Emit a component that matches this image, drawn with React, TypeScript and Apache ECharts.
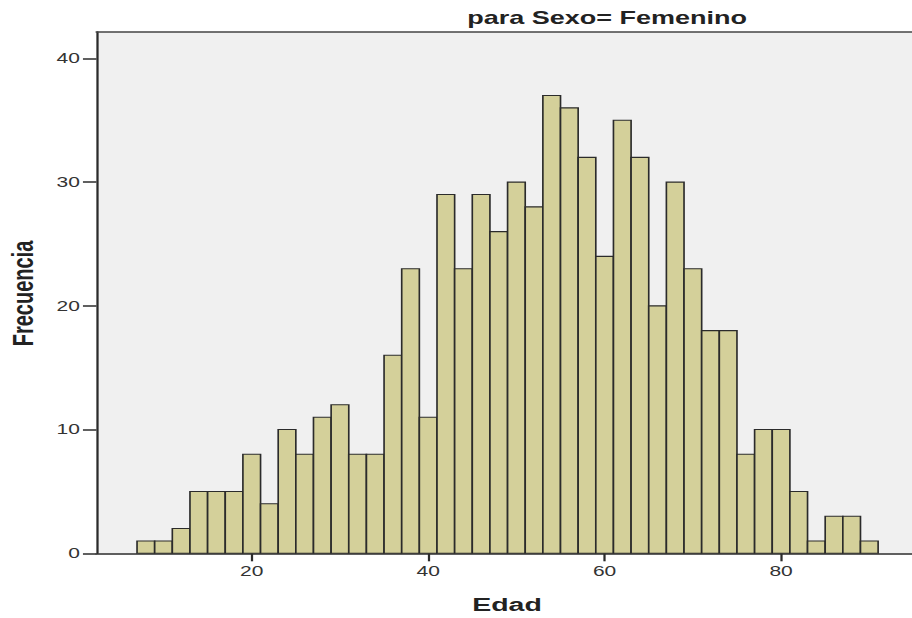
import React, { useEffect, useRef } from "react";
import * as echarts from "echarts";

// Histogram data: bin centres (Edad) and frequencies (Frecuencia)
const binCenters = [8, 10, 12, 14, 16, 18, 20, 22, 24, 26, 28, 30, 32, 34, 36, 38, 40, 42, 44, 46, 48, 50, 52, 54, 56, 58, 60, 62, 64, 66, 68, 70, 72, 74, 76, 78, 80, 82, 84, 86, 88, 90];
const frequencies = [1, 1, 2, 5, 5, 5, 8, 4, 10, 8, 11, 12, 8, 8, 16, 23, 11, 29, 23, 29, 26, 30, 28, 37, 36, 32, 24, 35, 32, 20, 30, 23, 18, 18, 8, 10, 10, 5, 1, 3, 3, 1];
const BIN_WIDTH = 2;
const xTickLabels = [20, 40, 60, 80];
const yTickLabels = [0, 10, 20, 30, 40];
const titleText = "para Sexo= Femenino";
const xName = "Edad";
const yName = "Frecuencia";

const SCALE_X = 1.5;
const W = 912 / SCALE_X;
const H = 618;
const FONT = '"Liberation Sans", Arial, sans-serif';
const X_MIN = 2.4;
const X_MAX = 94.84;

export default function App() {
  const ref = useRef<HTMLDivElement>(null);
  useEffect(() => {
    if (!ref.current) return;
    const chart = echarts.init(ref.current, null, { renderer: "svg", width: W, height: H });
    const data = binCenters.map((c, i) => [c, frequencies[i]]);
    chart.setOption({
      animation: false,
      grid: {
        left: 64.3,
        right: 0,
        top: 32,
        bottom: 64.7,
        show: true,
        backgroundColor: "#f0f0f0",
        borderWidth: 0,
      },
      xAxis: [
        {
          type: "value",
          min: X_MIN,
          max: X_MAX,
          position: "bottom",
          splitLine: { show: false },
          axisLine: { show: true, lineStyle: { color: "#2b2b2b", width: 1.5 } },
          axisTick: { show: true, customValues: xTickLabels, length: 8, lineStyle: { color: "#2b2b2b", width: 1.5 } },
          axisLabel: { customValues: xTickLabels, color: "#333", fontSize: 14, fontFamily: FONT, margin: 11 },
        },
        {
          type: "value",
          min: X_MIN,
          max: X_MAX,
          position: "top",
          splitLine: { show: false },
          axisLine: { show: true, lineStyle: { color: "#444", width: 1.5 } },
          axisTick: { show: false },
          axisLabel: { show: false },
        },
      ],
      yAxis: {
        type: "value",
        min: 0,
        max: 42.13,
        splitLine: { show: false },
        axisLine: { show: true, lineStyle: { color: "#2b2b2b", width: 1.5 } },
        axisTick: { show: true, customValues: yTickLabels, length: 9, lineStyle: { color: "#2b2b2b", width: 1.5 } },
        axisLabel: { customValues: yTickLabels, color: "#333", fontSize: 14, fontFamily: FONT, margin: 11 },
      },
      graphic: [
        {
          type: "text",
          x: 404.7,
          y: 17.5,
          style: { text: titleText, fill: "#222", font: `bold 18px ${FONT}`, align: "center", verticalAlign: "middle" },
        },
        {
          type: "text",
          x: 338,
          y: 604,
          style: { text: xName, fill: "#222", font: `bold 19px ${FONT}`, align: "center", verticalAlign: "middle" },
        },
        {
          type: "text",
          x: 15,
          y: 293.5,
          rotation: Math.PI / 2,
          style: { text: yName, fill: "#222", font: `bold 20px ${FONT}`, align: "center", verticalAlign: "middle" },
        },
      ],
      series: [
        {
          type: "custom",
          data,
          xAxisIndex: 0,
          encode: { x: 0, y: 1 },
          renderItem: (params: any, api: any) => {
            const x = api.value(0);
            const y = api.value(1);
            const p0 = api.coord([x - BIN_WIDTH / 2, y]);
            const p1 = api.coord([x + BIN_WIDTH / 2, 0]);
            return {
              type: "rect",
              shape: { x: p0[0], y: p0[1], width: p1[0] - p0[0], height: p1[1] - p0[1] },
              style: { fill: "#d4d09a", stroke: "#2b2b2b", lineWidth: 1.1 },
            };
          },
        },
      ],
    });
    return () => chart.dispose();
  }, []);
  return (
    <div style={{ position: "fixed", left: 0, top: 0, width: 912, height: 618, overflow: "hidden", background: "#fff" }}>
      <div
        ref={ref}
        style={{ width: W, height: H, transform: `scaleX(${SCALE_X})`, transformOrigin: "0 0" }}
      />
    </div>
  );
}
